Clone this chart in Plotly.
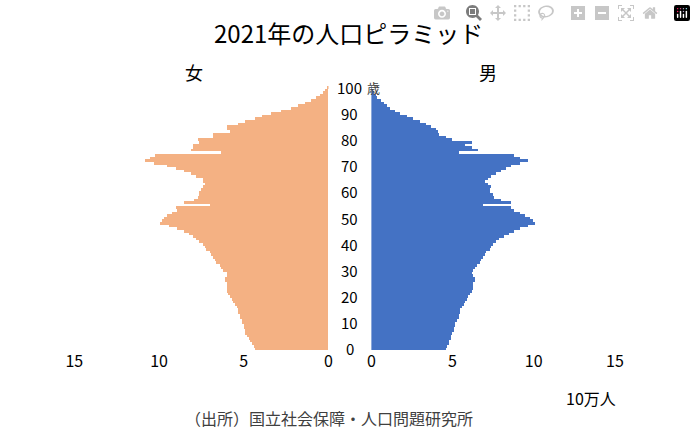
import plotly.graph_objects as go

ages = list(range(0, 101))
female = [4.3,4.4,4.5,4.6,4.7,4.8,4.9,4.9,5.0,5.0,
          5.1,5.1,5.2,5.2,5.3,5.3,5.4,5.5,5.6,5.7,
          5.8,5.9,6.0,6.0,6.0,6.0,6.1,6.1,6.0,6.0,
          6.2,6.3,6.4,6.6,6.7,6.8,6.9,7.0,7.2,7.3,
          7.4,7.6,7.8,8.0,8.2,8.5,8.9,9.4,9.9,9.8,
          9.7,9.5,9.2,8.9,9.0,7.0,8.5,7.9,7.7,7.6,
          7.6,7.5,7.4,7.3,7.4,7.4,7.8,8.1,8.5,9.0,
          9.5,10.3,10.8,10.5,10.2,6.3,8.1,8.0,8.0,7.6,
          7.7,6.8,6.8,5.8,6.0,6.0,5.3,4.9,4.3,3.9,
          3.4,2.8,2.2,1.8,1.4,1.0,0.7,0.5,0.3,0.2,0.1]
male = [4.6,4.7,4.8,4.8,4.9,4.9,5.0,5.1,5.1,5.2,
        5.2,5.3,5.4,5.4,5.5,5.5,5.6,5.7,5.8,5.9,
        6.0,6.1,6.2,6.3,6.3,6.3,6.4,6.4,6.3,6.2,
        6.3,6.4,6.5,6.7,6.8,6.9,7.0,7.1,7.3,7.4,
        7.5,7.7,7.9,8.2,8.5,8.8,9.2,9.7,10.1,10.0,
        9.8,9.5,9.2,8.8,8.6,6.9,8.6,8.0,7.6,7.5,
        7.3,7.3,7.4,7.2,7.0,7.2,7.4,7.7,8.0,8.3,
        8.6,9.2,9.7,9.2,8.8,5.4,6.6,6.2,5.8,6.2,
        5.0,4.6,4.2,4.1,4.0,3.7,3.4,3.0,2.6,2.2,
        1.8,1.5,1.2,1.0,0.8,0.6,0.4,0.3,0.2,0.1,0.05]
age_ticks = [0,10,20,30,40,50,60,70,80,90,100]
x_ticks = [0,5,10,15]

font = "Noto Sans CJK JP"
fig = go.Figure()
fig.add_trace(go.Bar(y=ages, x=female, orientation="h", marker_color="#F4B183",
                     marker_line_width=0, xaxis="x", yaxis="y"))
fig.add_trace(go.Bar(y=ages, x=male, orientation="h", marker_color="#4472C4",
                     marker_line_width=0, xaxis="x2", yaxis="y"))

ydom = [1-350.3/441, 1-86/441]
fig.update_layout(
    width=696, height=441, margin=dict(l=0, r=0, t=0, b=0),
    paper_bgcolor="white", plot_bgcolor="white", showlegend=False,
    bargap=0, font=dict(family=font, color="#000000"),
    xaxis=dict(domain=[67/696, 328/696], range=[15, 0], tickvals=x_ticks,
               showgrid=False, zeroline=False, showline=False, ticks="",
               tickfont=dict(size=16), anchor="y"),
    xaxis2=dict(domain=[372/696, 622/696], range=[0, 15], tickvals=x_ticks,
                showgrid=False, zeroline=False, showline=False, ticks="",
                tickfont=dict(size=16), anchor="y"),
    yaxis=dict(domain=ydom, range=[-0.5, 100.5], visible=False),
)

def ann(x, y, text, size, color="#000000", xanchor="center", yref="paper"):
    fig.add_annotation(x=x, xref="paper", y=y, yref=yref, text=text, showarrow=False,
                       font=dict(size=size, color=color), xanchor=xanchor, yanchor="middle")

for a in age_ticks:
    ann(350/696, a, str(a), 15, yref="y")
ann(365/696, 100, "歳", 13, color="#404040", xanchor="left", yref="y")
ann(348/696, 1-32/441, "2021年の人口ピラミッド", 24)
ann(190/696, 1-72/441, "女", 18)
ann(492/696, 1-72/441, "男", 18)
ann(597/696, 1-398/441, "10万人", 16)
ann(328/696, 1-418/441, "（出所）国立社会保障・人口問題研究所", 16, color="#404040")

fig.write_html("out.html")
with open("out.html", encoding="utf-8") as f:
    html = f.read()
html = html.replace("<head>", "<head><style>html,body{margin:0;padding:0;overflow:hidden}</style>", 1)
with open("out.html", "w", encoding="utf-8") as f:
    f.write(html)
